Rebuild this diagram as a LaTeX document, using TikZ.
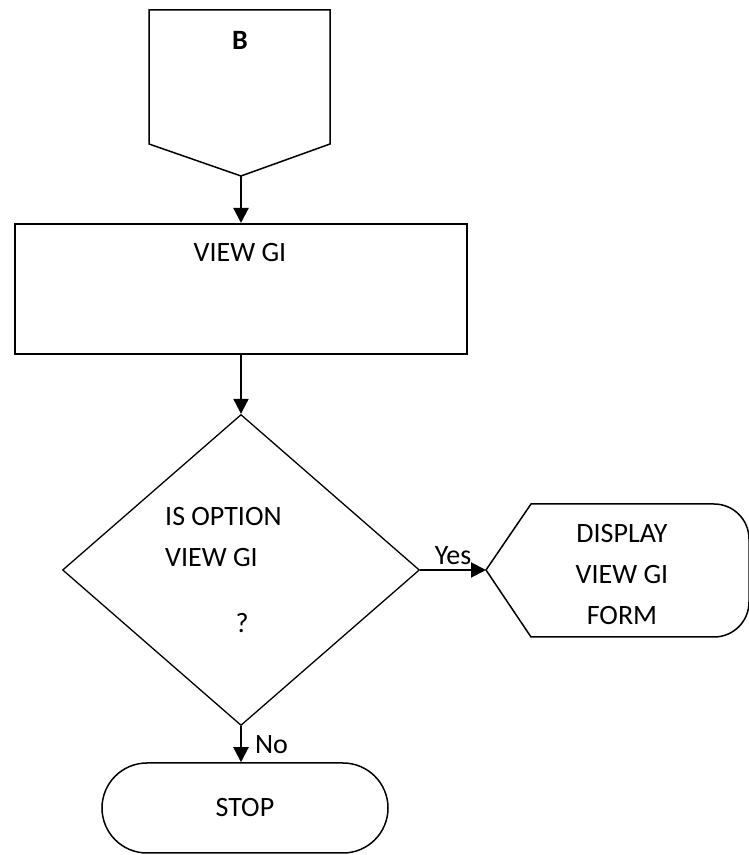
\documentclass[tikz,border=0pt]{standalone}
\usepackage{fontspec}
\setmainfont{Carlito}
\usetikzlibrary{shapes.geometric,shapes.misc,arrows.meta}

\begin{document}
\begin{tikzpicture}[
            x = 1pt, y = 1pt,
            every node/.style = {font = \fontsize{28}{41}\selectfont, inner sep = 0pt},
            process/.style = {
                draw,
                rectangle,
                line width = 2pt,
                minimum width = 452pt,
                minimum height = 130pt
            },
            decision/.style = {
                draw,
                diamond,
                line width = 1.3pt,
                minimum width = 357pt,
                minimum height = 311pt
            },
            terminal/.style = {
                draw,
                rounded rectangle,
                line width = 1.5pt,
                minimum width = 286pt,
                minimum height = 90pt
            },
            outline/.style = {line width = 1.5pt, line join = miter},
            flow/.style = {-{Triangle[length = 15pt, width = 15pt]}, line width = 2pt}
        ]
        \useasboundingbox (0,0) rectangle (749,855);

        \draw[outline] (149,845) -- (330,845) -- (330,711) -- (241,679) -- (149,711) -- cycle;
        \coordinate (conn_tip) at (241,679);
        \node[font = \fontsize{28}{41}\selectfont\bfseries] (conn) at (240,815) {B};

        \node[process] (view) at (241,566) {};
        \node (view_title) at (240,602) {VIEW GI};

        \node[decision] (option) at (241,285) {};
        \node[anchor = west, align = left] (option_text) at (165,318) {IS OPTION\\VIEW GI};
        \node (option_mark) at (242,232) {?};

        \draw[outline] (486,285) -- (531,351) -- (714,351) arc[start angle = 90, end angle = 0, radius = 35] -- (749,253) arc[start angle = 0, end angle = -90, radius = 35] -- (531,218) -- cycle;
        \coordinate (display_in) at (486,285);
        \node[align = center] (display) at (622,280) {DISPLAY\\VIEW GI\\FORM};

        \node[terminal] (stop) at (245,47) {STOP};

        \draw[flow] (conn_tip) -- (view.north);
        \draw[flow] (view.south) -- (option.north);
        \draw[flow] (option.east) -- node[above = 4pt] (yes) {Yes} (display_in);
        \draw[flow] (option.south) -- node[right = 13pt] (no) {No} (option.south |- stop.north);
    \end{tikzpicture}
\end{document}
